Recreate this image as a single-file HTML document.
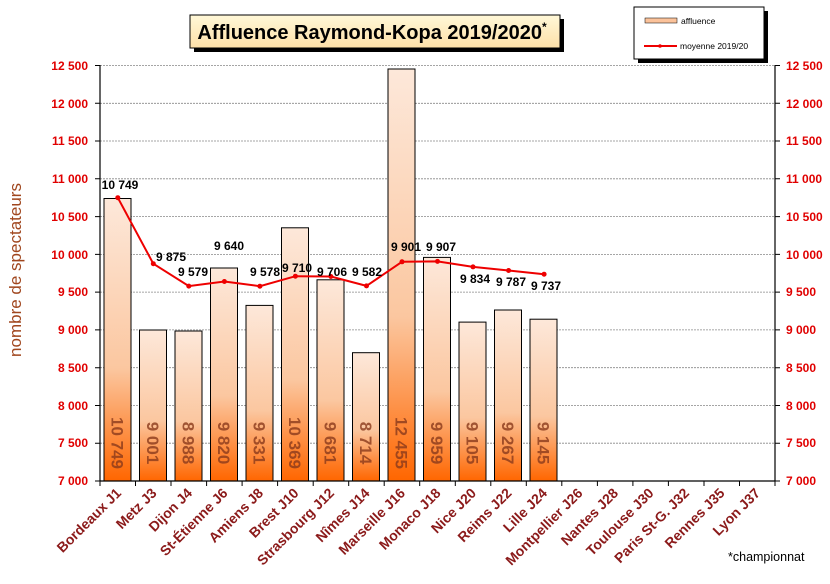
<!DOCTYPE html>
<html><head><meta charset="utf-8"><style>
body{margin:0;background:#fff;}
svg text{font-family:"Liberation Sans",sans-serif;}
</style></head><body>
<svg width="830" height="579" viewBox="0 0 830 579" xmlns="http://www.w3.org/2000/svg">
<defs>
<linearGradient id="bg" x1="0" y1="0" x2="0" y2="1">
<stop offset="0" stop-color="#fde8da"/><stop offset="0.6" stop-color="#fbc7a0"/><stop offset="1" stop-color="#ff6600"/>
</linearGradient>
<linearGradient id="tg" x1="0" y1="0" x2="0" y2="1">
<stop offset="0" stop-color="#fff8d8"/><stop offset="1" stop-color="#fde0a8"/>
</linearGradient>
</defs>
<rect x="194" y="19" width="370" height="33" fill="#000"/>
<rect x="190" y="15" width="370" height="33" fill="url(#tg)" stroke="#000" stroke-width="1"/>
<text x="372" y="39" font-size="20" font-weight="bold" text-anchor="middle">Affluence Raymond-Kopa 2019/2020<tspan font-size="12" dy="-8">*</tspan></text>
<rect x="638" y="11" width="130" height="52" fill="#000"/>
<rect x="634" y="7" width="130" height="52" fill="#fff" stroke="#000"/>
<rect x="645" y="18" width="32" height="5" fill="#fbc29a" stroke="#000" stroke-width="0.5"/>
<text x="681" y="24" font-size="8.5">affluence</text>
<line x1="644" y1="46" x2="677" y2="46" stroke="#e00" stroke-width="2"/><circle cx="660" cy="46" r="1.8" fill="#e00"/>
<text x="680" y="49" font-size="8.5">moyenne 2019/20</text>
<g stroke="#888" stroke-width="0.8" stroke-dasharray="2,1">
<line x1="100" x2="775" y1="65.5" y2="65.5"/><line x1="100" x2="775" y1="103.3" y2="103.3"/><line x1="100" x2="775" y1="141" y2="141"/><line x1="100" x2="775" y1="178.8" y2="178.8"/><line x1="100" x2="775" y1="216.6" y2="216.6"/><line x1="100" x2="775" y1="254.4" y2="254.4"/><line x1="100" x2="775" y1="292.1" y2="292.1"/><line x1="100" x2="775" y1="329.9" y2="329.9"/><line x1="100" x2="775" y1="367.7" y2="367.7"/><line x1="100" x2="775" y1="405.5" y2="405.5"/><line x1="100" x2="775" y1="443.2" y2="443.2"/>
</g>
<g font-size="12" font-weight="bold" fill="#e00000" xml:space="preserve">
<g text-anchor="end">
<text x="88" y="70">12  500</text><text x="88" y="108">12  000</text><text x="88" y="145">11  500</text><text x="88" y="183">11  000</text><text x="88" y="221">10  500</text><text x="88" y="259">10  000</text><text x="88" y="296">9  500</text><text x="88" y="334">9  000</text><text x="88" y="372">8  500</text><text x="88" y="410">8  000</text><text x="88" y="447">7  500</text><text x="88" y="485">7  000</text>
</g>
<g>
<text x="786" y="70">12  500</text><text x="786" y="108">12  000</text><text x="786" y="145">11  500</text><text x="786" y="183">11  000</text><text x="786" y="221">10  500</text><text x="786" y="259">10  000</text><text x="786" y="296">9  500</text><text x="786" y="334">9  000</text><text x="786" y="372">8  500</text><text x="786" y="410">8  000</text><text x="786" y="447">7  500</text><text x="786" y="485">7  000</text>
</g></g>
<text transform="translate(21,270) rotate(-90)" font-size="17" fill="#a0461e" text-anchor="middle">nombre de spectateurs</text>
<g fill="url(#bg)" stroke="#000" stroke-width="1">
<rect x="104" y="198.5" width="27" height="282.5"/>
<rect x="139.5" y="330" width="27" height="151"/>
<rect x="175" y="331" width="27" height="150"/>
<rect x="210.5" y="268" width="27" height="213"/>
<rect x="246" y="305.4" width="27" height="175.6"/>
<rect x="281.5" y="227.8" width="27" height="253.2"/>
<rect x="317" y="279.8" width="27" height="201.2"/>
<rect x="352.5" y="352.7" width="27" height="128.3"/>
<rect x="388" y="69" width="27" height="412"/>
<rect x="423.5" y="257.4" width="27" height="223.6"/>
<rect x="459" y="322.1" width="27" height="158.9"/>
<rect x="494.5" y="310" width="27" height="171"/>
<rect x="530" y="319.2" width="27" height="161.8"/>
</g>
<g font-size="17" font-weight="bold" fill="#8a3a1c" fill-opacity="0.8" text-anchor="middle">
<text transform="translate(111.5,443) rotate(90)">10 749</text>
<text transform="translate(147,443) rotate(90)">9 001</text>
<text transform="translate(182.5,443) rotate(90)">8 988</text>
<text transform="translate(218,443) rotate(90)">9 820</text>
<text transform="translate(253.5,443) rotate(90)">9 331</text>
<text transform="translate(289,443) rotate(90)">10 369</text>
<text transform="translate(324.5,443) rotate(90)">9 681</text>
<text transform="translate(360,443) rotate(90)">8 714</text>
<text transform="translate(395.5,443) rotate(90)">12 455</text>
<text transform="translate(431,443) rotate(90)">9 959</text>
<text transform="translate(466.5,443) rotate(90)">9 105</text>
<text transform="translate(502,443) rotate(90)">9 267</text>
<text transform="translate(537.5,443) rotate(90)">9 145</text>
</g>
<g stroke="#000" stroke-width="1.2">
<line x1="100" y1="65" x2="100" y2="481"/><line x1="775" y1="65" x2="775" y2="481"/><line x1="100" y1="481" x2="775" y2="481"/>
</g>
<g stroke="#000" stroke-width="1">
<path d="M95 65.5h5M95 103.3h5M95 141h5M95 178.8h5M95 216.6h5M95 254.4h5M95 292.1h5M95 329.9h5M95 367.7h5M95 405.5h5M95 443.2h5M95 481h5"/>
<path d="M775 65.5h5M775 103.3h5M775 141h5M775 178.8h5M775 216.6h5M775 254.4h5M775 292.1h5M775 329.9h5M775 367.7h5M775 405.5h5M775 443.2h5M775 481h5"/>
<path d="M100 481v5M135.5 481v5M171 481v5M206.6 481v5M242.1 481v5M277.6 481v5M313.2 481v5M348.7 481v5M384.2 481v5M419.7 481v5M455.3 481v5M490.8 481v5M526.3 481v5M561.8 481v5M597.4 481v5M632.9 481v5M668.4 481v5M704 481v5M739.5 481v5M775 481v5"/>
</g>
<polyline fill="none" stroke="#e00" stroke-width="2" points="117.8,197.7 153.3,263.7 188.8,286.1 224.4,281.5 259.9,286.2 295.4,276.2 330.9,276.5 366.5,285.9 402,261.8 437.5,261.4 473,266.9 508.6,270.5 544.1,274.2"/>
<g fill="#e00">
<circle cx="117.8" cy="197.7" r="2.5"/><circle cx="153.3" cy="263.7" r="2.5"/><circle cx="188.8" cy="286.1" r="2.5"/><circle cx="224.4" cy="281.5" r="2.5"/><circle cx="259.9" cy="286.2" r="2.5"/><circle cx="295.4" cy="276.2" r="2.5"/><circle cx="330.9" cy="276.5" r="2.5"/><circle cx="366.5" cy="285.9" r="2.5"/><circle cx="402" cy="261.8" r="2.5"/><circle cx="437.5" cy="261.4" r="2.5"/><circle cx="473" cy="266.9" r="2.5"/><circle cx="508.6" cy="270.5" r="2.5"/><circle cx="544.1" cy="274.2" r="2.5"/>
</g>
<g font-size="12" font-weight="bold" fill="#000" text-anchor="middle">
<text x="120" y="189">10 749</text>
<text x="171" y="261">9 875</text>
<text x="193" y="276">9 579</text>
<text x="229" y="250">9 640</text>
<text x="265" y="276">9 578</text>
<text x="297" y="272">9 710</text>
<text x="332" y="276">9 706</text>
<text x="367" y="276">9 582</text>
<text x="406" y="251">9 901</text>
<text x="441" y="251">9 907</text>
<text x="475" y="283">9 834</text>
<text x="511" y="286">9 787</text>
<text x="546" y="290">9 737</text>
</g>
<g font-size="14" font-weight="bold" fill="#8b1a1a" text-anchor="end">
<text transform="translate(122,494) rotate(-45)">Bordeaux J1</text>
<text transform="translate(157.5,494) rotate(-45)">Metz J3</text>
<text transform="translate(193,494) rotate(-45)">Dijon J4</text>
<text transform="translate(228.5,494) rotate(-45)">St-Étienne J6</text>
<text transform="translate(264,494) rotate(-45)">Amiens J8</text>
<text transform="translate(299.5,494) rotate(-45)">Brest J10</text>
<text transform="translate(335,494) rotate(-45)">Strasbourg J12</text>
<text transform="translate(370.5,494) rotate(-45)">Nîmes J14</text>
<text transform="translate(406,494) rotate(-45)">Marseille J16</text>
<text transform="translate(441.5,494) rotate(-45)">Monaco J18</text>
<text transform="translate(477,494) rotate(-45)">Nice J20</text>
<text transform="translate(512.5,494) rotate(-45)">Reims J22</text>
<text transform="translate(548,494) rotate(-45)">Lille J24</text>
<text transform="translate(583.5,494) rotate(-45)">Montpellier J26</text>
<text transform="translate(619,494) rotate(-45)">Nantes J28</text>
<text transform="translate(654.5,494) rotate(-45)">Toulouse J30</text>
<text transform="translate(690,494) rotate(-45)">Paris St-G. J32</text>
<text transform="translate(725.5,494) rotate(-45)">Rennes J35</text>
<text transform="translate(761,494) rotate(-45)">Lyon J37</text>
</g>
<text x="728" y="561" font-size="12.5" fill="#000">*championnat</text>
</svg>
</body></html>
